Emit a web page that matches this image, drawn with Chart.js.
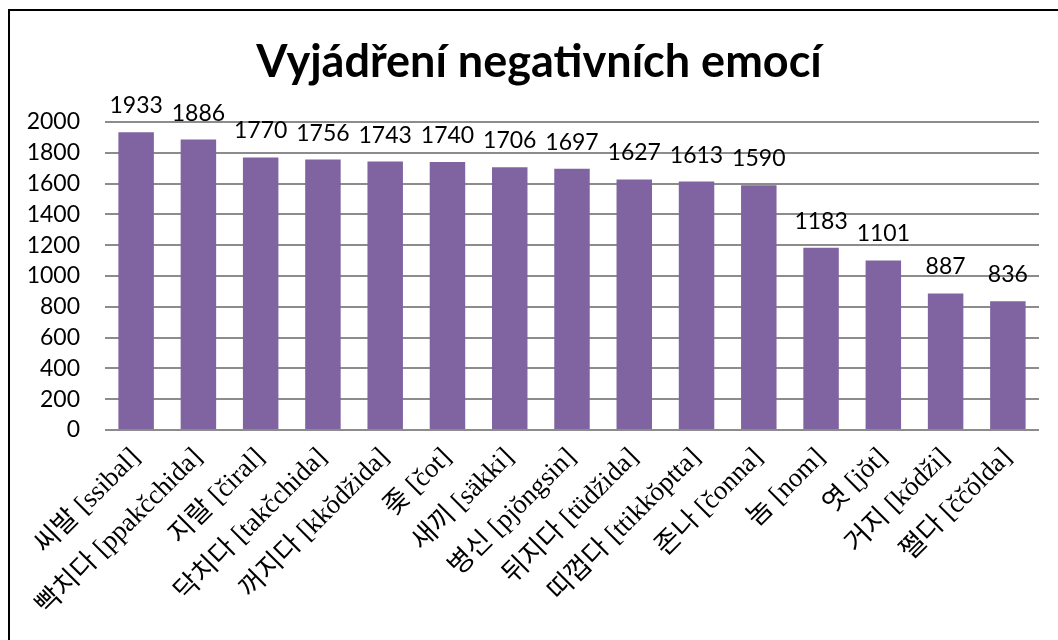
<!DOCTYPE html>
<html>
<head>
<meta charset="utf-8">
<style>
  html, body { margin: 0; padding: 0; background: #fff; }
  #wrap { position: relative; width: 1058px; height: 640px; overflow: hidden; }
  #frame { position: absolute; left: 8px; top: 9px; width: 1100px; height: 700px;
           border-left: 2px solid #000; border-top: 2px solid #000; pointer-events: none; }
  canvas { position: absolute; left: 0; top: 0; }
</style>
<script src="https://cdn.jsdelivr.net/npm/chart.js"></script>
</head>
<body>
<div id="wrap">
  <canvas id="emotionChart" width="1058" height="640"></canvas>
  <div id="frame"></div>
</div>
<script>
const chartTitle = 'Vyjádření negativních emocí';
const wordLabels = ['씨발 [ssibal]', '빡치다 [ppakčchida]', '지랄 [čiral]', '닥치다 [takčchida]',
  '꺼지다 [kkŏdžida]', '좆 [čot]', '새끼 [säkki]', '병신 [pjŏngsin]', '뒤지다 [tüdžida]',
  '띠껍다 [ttikkŏptta]', '존나 [čonna]', '놈 [nom]', '엿 [jŏt]', '거지 [kŏdži]', '쩔다 [ččŏlda]'];
const wordCounts = [1933, 1886, 1770, 1756, 1743, 1740, 1706, 1697, 1627, 1613, 1590, 1183, 1101, 887, 836];
const yTicks = [0, 200, 400, 600, 800, 1000, 1200, 1400, 1600, 1800, 2000];

const labelFont = "'Lato', 'Open Sans', sans-serif";

// values above each bar + the title (drawn by hand so it can sit off-centre like the original)
const valueLabels = {
  id: 'valueLabels',
  afterDatasetsDraw(chart) {
    const ctx = chart.ctx;
    const meta = chart.getDatasetMeta(0);
    ctx.save();
    ctx.font = '23px ' + labelFont;
    ctx.fillStyle = '#000';
    ctx.textAlign = 'center';
    ctx.textBaseline = 'alphabetic';
    meta.data.forEach((bar, i) => {
      ctx.fillText(String(wordCounts[i]), bar.x, bar.y - 19);
    });
    ctx.font = 'bold 45px ' + labelFont;
    ctx.textBaseline = 'middle';
    ctx.fillText(chartTitle, 539, 62);
    ctx.restore();
  }
};

new Chart(document.getElementById('emotionChart').getContext('2d'), {
  type: 'bar',
  data: {
    labels: wordLabels,
    datasets: [{
      data: wordCounts,
      backgroundColor: '#8064A2',
      barPercentage: 0.57,
      categoryPercentage: 1.0
    }]
  },
  options: {
    responsive: false,
    animation: false,
    layout: { padding: { left: 0, right: 19, top: 122, bottom: 0 } },
    plugins: {
      legend: { display: false },
      tooltip: { enabled: false },
      title: { display: false }
    },
    scales: {
      x: {
        grid: { display: false },
        border: { display: false },
        ticks: {
          autoSkip: false,
          maxRotation: 45,
          minRotation: 45,
          color: '#000',
          padding: 4,
          font: { family: "'Liberation Serif', 'Noto Sans CJK KR', serif", size: 27 }
        },
        afterFit(scale) { scale.height = 210; }
      },
      y: {
        min: 0,
        max: 2000,
        afterBuildTicks(scale) { scale.ticks = yTicks.map(v => ({ value: v })); },
        grid: { color: '#8c8c8c', lineWidth: 2, drawTicks: false },
        border: { display: false },
        ticks: {
          color: '#000',
          padding: 25,
          font: { family: labelFont, size: 23 },
          callback: (v) => String(v)
        },
        afterFit(scale) { scale.width = 105; }
      }
    }
  },
  plugins: [valueLabels]
});
</script>
</body>
</html>
